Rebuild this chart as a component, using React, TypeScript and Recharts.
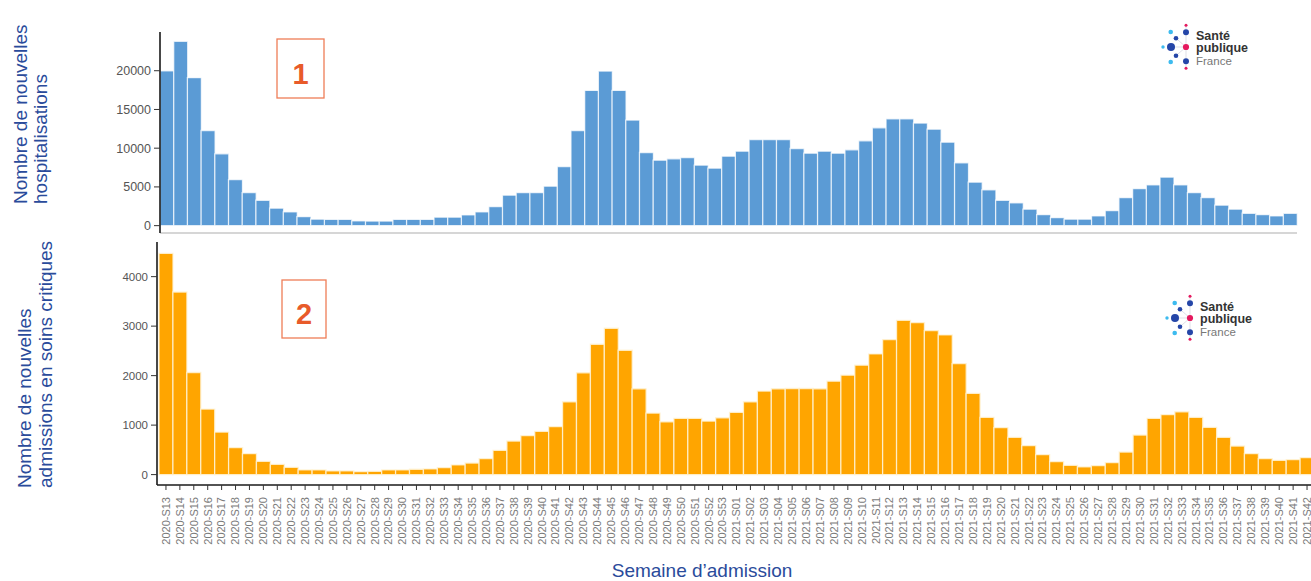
import { BarChart, Bar, XAxis, YAxis } from 'recharts';

const weeks = [
  '2020-S13', '2020-S14', '2020-S15', '2020-S16', '2020-S17', '2020-S18', '2020-S19', '2020-S20', '2020-S21', '2020-S22',
  '2020-S23', '2020-S24', '2020-S25', '2020-S26', '2020-S27', '2020-S28', '2020-S29', '2020-S30', '2020-S31', '2020-S32',
  '2020-S33', '2020-S34', '2020-S35', '2020-S36', '2020-S37', '2020-S38', '2020-S39', '2020-S40', '2020-S41', '2020-S42',
  '2020-S43', '2020-S44', '2020-S45', '2020-S46', '2020-S47', '2020-S48', '2020-S49', '2020-S50', '2020-S51', '2020-S52',
  '2020-S53',
  '2021-S01', '2021-S02', '2021-S03', '2021-S04', '2021-S05', '2021-S06', '2021-S07', '2021-S08', '2021-S09', '2021-S10',
  '2021-S11', '2021-S12', '2021-S13', '2021-S14', '2021-S15', '2021-S16', '2021-S17', '2021-S18', '2021-S19', '2021-S20',
  '2021-S21', '2021-S22', '2021-S23', '2021-S24', '2021-S25', '2021-S26', '2021-S27', '2021-S28', '2021-S29', '2021-S30',
  '2021-S31', '2021-S32', '2021-S33', '2021-S34', '2021-S35', '2021-S36', '2021-S37', '2021-S38', '2021-S39', '2021-S40',
  '2021-S41', '2021-S42',
];

const hospitalisations = [
  20000, 23800, 19100, 12280, 9270, 5950, 4270, 3280, 2250, 1770,
  1160, 830, 800, 800, 610, 600, 600, 800, 800, 800,
  1090, 1090, 1380, 1770, 2460, 3930, 4270, 4270, 5090, 7630,
  12280, 17460, 19960, 17460, 13630, 9440, 8450, 8620, 8790, 7810,
  7420,
  8970, 9620, 11120, 11120, 11120, 9960, 9360, 9620, 9360, 9790,
  10950, 12630, 13800, 13800, 13240, 12460, 10780, 8110, 5610, 4620,
  3280, 2940, 2120, 1420, 1030, 830, 830, 1250, 1940, 3620,
  4780, 5260, 6260, 5260, 4270, 3620, 2640, 2120, 1600, 1420,
  1250, 1600,
];

const soinsCritiques = [
  4470, 3690, 2063, 1324, 860, 544, 423, 269, 208, 148,
  94, 94, 74, 74, 60, 67, 94, 94, 108, 114,
  141, 195, 235, 323, 490, 679, 786, 874, 968, 1472,
  2056, 2634, 2957, 2513, 1734, 1243, 1068, 1136, 1136, 1082,
  1149,
  1257, 1472, 1687, 1734, 1740, 1740, 1734, 1888, 2009, 2211,
  2439, 2728, 3118, 3071, 2910, 2822, 2244, 1640, 1156, 948,
  753, 585, 403, 262, 188, 155, 181, 242, 457, 800,
  1136, 1210, 1270, 1156, 954, 753, 578, 423, 323, 289,
  302, 343,
];

const hospTicks = [0, 5000, 10000, 15000, 20000];
const icuTicks = [0, 1000, 2000, 3000, 4000];

const data = weeks.map((week, i) => ({ week, hosp: hospitalisations[i], icu: soinsCritiques[i] }));

const FONT = '"Liberation Sans", Arial, Helvetica, sans-serif';
const TITLE_BLUE = '#2a4b9b';

const WeekTick = (props: any) => {
  const { x, y, payload } = props;
  return (
    <text
      x={x}
      y={y}
      transform={`rotate(-90, ${x}, ${y})`}
      textAnchor="end"
      dy="0.35em"
      fontSize={11}
      fill="#7a7a7a"
      fontFamily={FONT}
    >
      {payload.value}
    </text>
  );
};

// logo drawn around its pink centre dot
const Logo = ({ x, y }: { x: number; y: number }) => (
  <g transform={`translate(${x}, ${y})`}>
    <g stroke="#c9cbd6" strokeWidth={0.6}>
      <line x1={0} y1={-21} x2={0} y2={21} />
      <line x1={-15} y1={0} x2={0} y2={0} />
      <line x1={-10} y1={-8.7} x2={0} y2={0} />
      <line x1={-10} y1={8.7} x2={0} y2={0} />
    </g>
    <circle cx={-23} cy={0} r={1.7} fill="#3dbbef" />
    <circle cx={-15} cy={0} r={4} fill="#2546a8" />
    <circle cx={-10} cy={-8.7} r={2.3} fill="#2546a8" />
    <circle cx={-10} cy={8.7} r={2.3} fill="#2546a8" />
    <circle cx={-15.3} cy={-15} r={2.3} fill="#3dbbef" />
    <circle cx={-15.3} cy={15} r={2.3} fill="#3dbbef" />
    <circle cx={0} cy={-14.7} r={3} fill="#2546a8" />
    <circle cx={0} cy={14.3} r={3} fill="#2546a8" />
    <circle cx={0} cy={-21.7} r={1.5} fill="#e5195e" />
    <circle cx={0} cy={21.3} r={1.5} fill="#e5195e" />
    <circle cx={0} cy={0} r={3.1} fill="#e5195e" />
    <text x={10} y={-7.5} fontSize={12.5} fontWeight="bold" fill="#333" fontFamily={FONT}>Santé</text>
    <text x={10} y={4.5} fontSize={12.5} fontWeight="bold" fill="#333" fontFamily={FONT}>publique</text>
    <text x={10} y={17.5} fontSize={11.5} fill="#777" fontFamily={FONT}>France</text>
  </g>
);

export default function App() {
  return (
    <div style={{ position: 'relative', width: 1311, height: 581, overflow: 'hidden', background: '#fff', fontFamily: FONT }}>
      <style>{'body { margin: 0; }'}</style>

      <div style={{ position: 'absolute', left: 0, top: 0 }}>
        <BarChart width={1311} height={240} data={data} margin={{ top: 32, right: 14, bottom: 6, left: 0 }} barCategoryGap={0}>
          <XAxis dataKey="week" height={1} tick={false} tickLine={false} axisLine={{ stroke: '#c8c8c8', strokeWidth: 1.5 }} />
          <YAxis
            width={160}
            domain={[-950, 25000]}
            allowDataOverflow
            ticks={hospTicks}
            interval={0}
            tickSize={6}
            tickMargin={3}
            axisLine={{ stroke: '#1a1a1a', strokeWidth: 1.6 }}
            tickLine={{ stroke: '#333' }}
            tick={{ fontSize: 12.5, fill: '#555', fontFamily: FONT }}
          />
          <Bar dataKey="hosp" fill="#5b9bd5" stroke="#ffffff" strokeOpacity={0.75} strokeWidth={1.3} isAnimationActive={false} />
        </BarChart>
      </div>

      <div style={{ position: 'absolute', left: 0, top: 236 }}>
        <BarChart width={1314} height={345} data={data} margin={{ top: 6, right: 0, bottom: 0, left: 0 }} barCategoryGap={0}>
          <XAxis
            dataKey="week"
            height={96}
            interval={0}
            padding={{ left: 2, right: 0 }}
            tickSize={5}
            tickMargin={7}
            axisLine={{ stroke: '#1a1a1a', strokeWidth: 1.6 }}
            tickLine={{ stroke: '#333' }}
            tick={<WeekTick />}
          />
          <YAxis
            width={157}
            domain={[-210, 4700]}
            allowDataOverflow
            ticks={icuTicks}
            interval={0}
            tickSize={6}
            tickMargin={3}
            axisLine={{ stroke: '#1a1a1a', strokeWidth: 1.6 }}
            tickLine={{ stroke: '#333' }}
            tick={{ fontSize: 11.5, fill: '#555', fontFamily: FONT }}
          />
          <Bar dataKey="icu" fill="#ffa500" stroke="#fff3d6" strokeOpacity={0.85} strokeWidth={1.3} isAnimationActive={false} />
        </BarChart>
      </div>

      <svg width={1311} height={581} style={{ position: 'absolute', left: 0, top: 0, pointerEvents: 'none' }}>
        <g fill={TITLE_BLUE} fontSize={19} fontFamily={FONT}>
          <text x={27} y={204} transform="rotate(-90, 27, 204)">Nombre de nouvelles</text>
          <text x={47} y={204} transform="rotate(-90, 47, 204)">hospitalisations</text>
          <text x={31} y={488} transform="rotate(-90, 31, 488)">Nombre de nouvelles</text>
          <text x={52} y={488} transform="rotate(-90, 52, 488)">admissions en soins critiques</text>
          <text x={702} y={577} textAnchor="middle">Semaine d’admission</text>
        </g>

        <rect x={277} y={39} width={47} height={59} fill="none" stroke="#ef7d57" strokeWidth={1.3} />
        <text x={300.5} y={84} textAnchor="middle" fontSize={29} fontWeight="bold" fill="#e85b2a" fontFamily={FONT}>1</text>
        <rect x={282} y={280} width={44} height={58} fill="none" stroke="#ef7d57" strokeWidth={1.3} />
        <text x={304} y={324} textAnchor="middle" fontSize={29} fontWeight="bold" fill="#e85b2a" fontFamily={FONT}>2</text>

        <Logo x={1186} y={47} />
        <Logo x={1190} y={318} />
      </svg>
    </div>
  );
}
